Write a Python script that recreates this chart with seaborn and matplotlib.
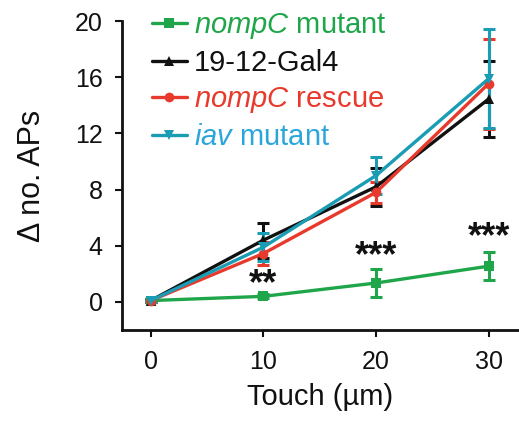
import numpy as np
import pandas as pd
import matplotlib
matplotlib.use("Agg")
import matplotlib.pyplot as plt
import matplotlib.transforms as mtransforms
import seaborn as sns

# Data
touch = [0, 10, 20, 30]
nompc_mut = [0.1, 0.4, 1.35, 2.55]
nompc_mut_err = [0.1, 0.15, 1.0, 1.0]
gal4 = [0.1, 4.4, 8.2, 14.45]
gal4_err = [0.1, 1.25, 1.35, 2.7]
nompc_res = [0.1, 3.45, 7.8, 15.55]
nompc_res_err = [0.1, 0.85, 0.75, 3.2]
iav_mut = [0.1, 3.9, 9.0, 15.9]
iav_mut_err = [0.1, 1.0, 1.3, 3.5]
stars = ["", "**", "***", "***"]
star_y = [0, 1.4, 3.4, 4.75]

groups = ["nompC mutant", "19-12-Gal4", "nompC rescue", "iav mutant"]
labels = [r"$\mathit{nompC}$ mutant", "19-12-Gal4", r"$\mathit{nompC}$ rescue", r"$\mathit{iav}$ mutant"]
line_colors = ["#1fa64a", "#111111", "#e83a2c", "#1a9cb4"]
text_colors = ["#1fa64a", "#111111", "#e83a2c", "#2aa6dc"]
markers = ["s", "^", "o", "v"]

ink = "#111111"
sns.set_style("ticks", {"axes.edgecolor": ink, "text.color": ink,
                        "axes.labelcolor": ink, "xtick.color": ink, "ytick.color": ink})
plt.rcParams["font.family"] = ["Liberation Sans", "DejaVu Sans"]
plt.rcParams["mathtext.fontset"] = "custom"
plt.rcParams["mathtext.it"] = "Liberation Sans:italic"
plt.rcParams["mathtext.rm"] = "Liberation Sans"

means = [nompc_mut, gal4, nompc_res, iav_mut]
errs = [nompc_mut_err, gal4_err, nompc_res_err, iav_mut_err]
df = pd.DataFrame({
    "touch": touch * 4,
    "value": np.concatenate(means),
    "err": np.concatenate(errs),
    "group": np.repeat(groups, len(touch)),
})

fig = plt.figure(figsize=(5.19, 4.21), dpi=100)
ax = fig.add_axes([0.235, 0.216, 0.763, 0.734])

for g, lab, lc, m in zip(groups, labels, line_colors, markers):
    sub = df[df["group"] == g]
    ax.errorbar(sub["touch"], sub["value"], yerr=sub["err"], fmt="none",
                ecolor=lc, elinewidth=2.2, capsize=4, capthick=2.2, zorder=2)
    sns.lineplot(data=sub, x="touch", y="value", ax=ax, color=lc, marker=m,
                 markersize=7, markeredgewidth=0, linewidth=2.4, label=lab,
                 errorbar=None, zorder=3)

# significance stars, asterisk glyph sits high so shift down to center it
star_fs = 26
star_trans = mtransforms.offset_copy(ax.transData, fig=fig, y=-0.32 * star_fs, units="points")
for x, s, y in zip(touch, stars, star_y):
    if s:
        ax.text(x, y, s, ha="center", va="baseline", fontsize=star_fs,
                fontweight="bold", color=ink, transform=star_trans)

ax.set_xlim(-2.55, 32.6)
ax.set_ylim(-2, 20)
ax.set_xticks(touch)
ax.set_yticks([0, 4, 8, 12, 16, 20])
ax.tick_params(labelsize=18, width=1.5, length=5, color=ink, labelcolor=ink, pad=9)
ax.set_xlabel("Touch (µm)", fontsize=21, labelpad=7, color=ink)
ax.set_ylabel("Δ no. APs", fontsize=22, labelpad=20, color=ink)
sns.despine(ax=ax)
for sp in ["left", "bottom"]:
    ax.spines[sp].set_linewidth(2)
    ax.spines[sp].set_color(ink)

leg = ax.legend(loc="upper left", bbox_to_anchor=(0.075, 1.033), frameon=False,
                fontsize=21, handlelength=1.2, handletextpad=0.25,
                labelspacing=0.28, borderaxespad=0, borderpad=0)
for t, c in zip(leg.get_texts(), text_colors):
    t.set_color(c)

fig.savefig("out.png", dpi=100)
